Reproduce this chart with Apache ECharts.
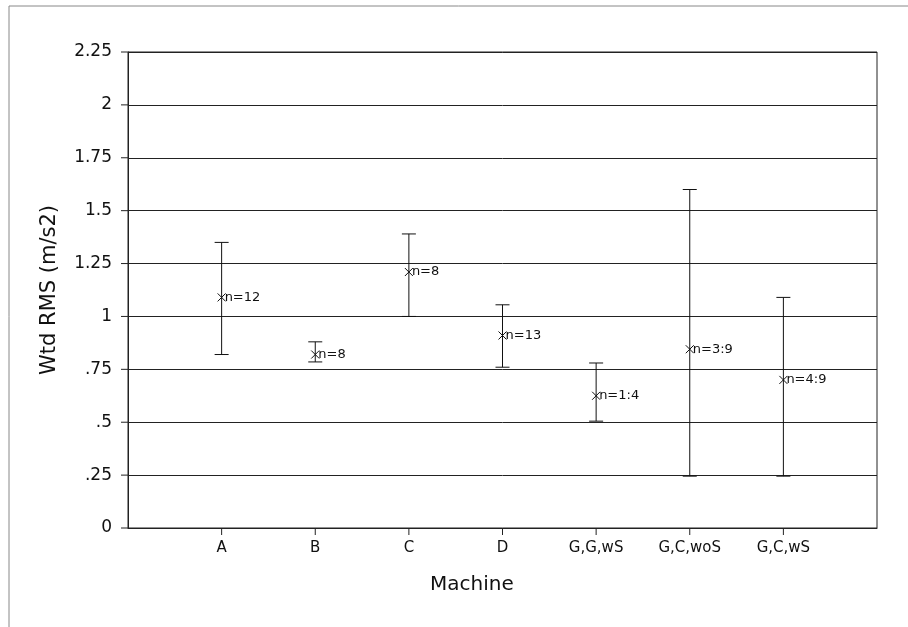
<!DOCTYPE html>
<html>
<head>
<meta charset="utf-8">
<script src="https://cdn.jsdelivr.net/npm/echarts@6/dist/echarts.min.js"></script>
<style>html,body{margin:0;padding:0;background:#fff;}#c{width:908px;height:627px;}</style>
</head>
<body>
<div id="c"></div>
<script>
var categories = ['A', 'B', 'C', 'D', 'G,G,wS', 'G,C,woS', 'G,C,wS'];
var means = [1.09, 0.82, 1.21, 0.91, 0.625, 0.845, 0.70];
var lows = [0.82, 0.785, 1.0, 0.76, 0.505, 0.245, 0.245];
var highs = [1.35, 0.88, 1.39, 1.055, 0.78, 1.60, 1.09];
var nLabels = ['n=12', 'n=8', 'n=8', 'n=13', 'n=1:4', 'n=3:9', 'n=4:9'];
var yTicks = [0, 0.25, 0.5, 0.75, 1, 1.25, 1.5, 1.75, 2, 2.25];

// padded slots so the categories sit inside the frame as in the original
var axisSlots = [''].concat(categories, [' ']);
var data = categories.map(function (c, i) {
  return [c, means[i], lows[i], highs[i], nLabels[i]];
});
function isCat(idx) { return idx > 0 && idx < axisSlots.length - 1; }

var chart = echarts.init(document.getElementById('c'), null, {renderer: 'canvas'});
var FONT = 'DejaVu Sans';
var TICK = 7;
var option = {
  animation: false,
  backgroundColor: '#fff',
  graphic: [
    {type: 'line', shape: {x1: 9, y1: 6, x2: 9, y2: 627}, style: {stroke: '#888', lineWidth: 1}, silent: true},
    {type: 'line', shape: {x1: 9, y1: 6, x2: 908, y2: 6}, style: {stroke: '#888', lineWidth: 1}, silent: true},
    {type: 'text', left: 430, top: 575, style: {text: 'Machine', font: '20px ' + FONT, fill: '#111'}}
  ],
  grid: {left: 128, right: 31, top: 52, bottom: 99, show: true, borderColor: '#222', borderWidth: 1, backgroundColor: 'transparent'},
  xAxis: {
    type: 'category', data: axisSlots, boundaryGap: false,
    axisLine: {show: true, lineStyle: {color: '#222'}},
    axisTick: {show: false},
    splitLine: {show: false},
    axisLabel: {
      margin: 13, fontFamily: FONT, fontSize: 15, color: '#111',
      interval: function (idx) { return isCat(idx); }
    }
  },
  yAxis: {
    type: 'value', min: 0, max: 2.25, interval: 0.25,
    name: 'Wtd RMS (m/s2)', nameLocation: 'middle', nameGap: 68, nameRotate: 90,
    nameTextStyle: {fontFamily: FONT, fontSize: 21, color: '#111'},
    axisLine: {show: true, lineStyle: {color: '#222'}},
    axisTick: {show: false},
    splitLine: {show: true, lineStyle: {color: '#222', width: 1}},
    axisLabel: {
      margin: 16, fontFamily: FONT, fontSize: 17, color: '#111',
      formatter: function (v) {
        var s = String(Math.round(v * 100) / 100);
        return (v > 0 && v < 1) ? s.replace(/^0/, '') : s;
      }
    }
  },
  series: [{
    type: 'custom',
    data: yTicks.map(function (v) { return [categories[0], v]; }),
    encode: {x: 0, y: 1},
    clip: false,
    silent: true,
    renderItem: function (params, api) {
      var p = api.coord([axisSlots[0], api.value(1)]);
      return {type: 'line', shape: {x1: p[0] - TICK, y1: p[1], x2: p[0], y2: p[1]}, style: {stroke: '#222', lineWidth: 1}};
    }
  }, {
    type: 'custom',
    data: data,
    encode: {x: 0, y: 1},
    clip: false,
    renderItem: function (params, api) {
      var x = api.value(0);
      var pm = api.coord([x, api.value(1)]);
      var pl = api.coord([x, api.value(2)]);
      var ph = api.coord([x, api.value(3)]);
      var p0 = api.coord([x, 0]);
      var cap = 7, m = 4;
      var st = {stroke: '#111', lineWidth: 1};
      return {
        type: 'group',
        children: [
          {type: 'line', shape: {x1: p0[0], y1: p0[1], x2: p0[0], y2: p0[1] + TICK}, style: {stroke: '#222', lineWidth: 1}},
          {type: 'line', shape: {x1: pl[0], y1: pl[1], x2: ph[0], y2: ph[1]}, style: st},
          {type: 'line', shape: {x1: ph[0] - cap, y1: ph[1], x2: ph[0] + cap, y2: ph[1]}, style: st},
          {type: 'line', shape: {x1: pl[0] - cap, y1: pl[1], x2: pl[0] + cap, y2: pl[1]}, style: st},
          {type: 'line', shape: {x1: pm[0] - m, y1: pm[1] - m, x2: pm[0] + m, y2: pm[1] + m}, style: st},
          {type: 'line', shape: {x1: pm[0] - m, y1: pm[1] + m, x2: pm[0] + m, y2: pm[1] - m}, style: st},
          {type: 'text', style: {text: api.value(4), x: pm[0] + 3, y: pm[1], verticalAlign: 'middle', font: '13px ' + FONT, fill: '#111'}}
        ]
      };
    }
  }]
};
chart.setOption(option);
</script>
</body>
</html>
